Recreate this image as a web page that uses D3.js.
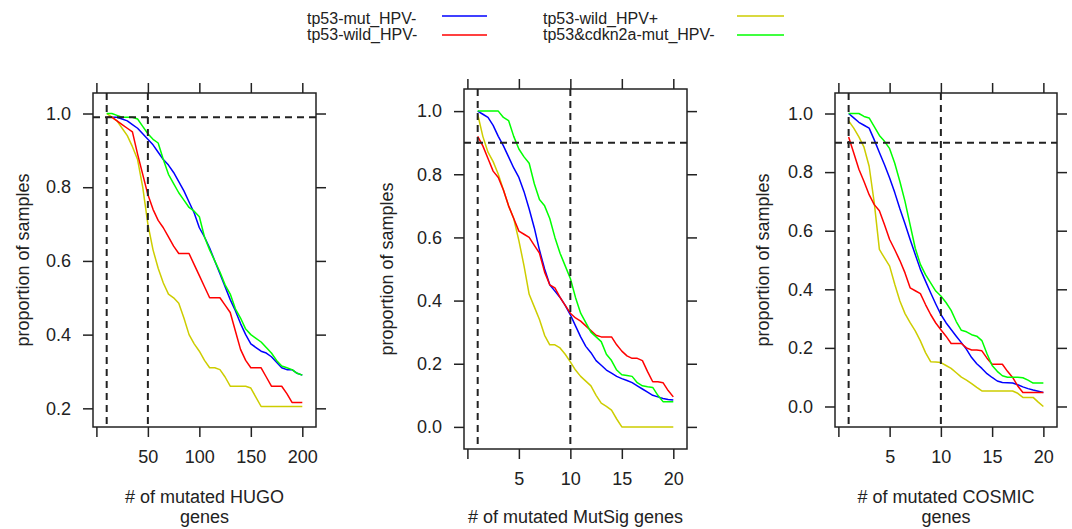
<!DOCTYPE html>
<html lang="en">
<head>
<meta charset="UTF-8">
<title>Proportion of samples by number of mutated genes</title>
<script src="https://d3js.org/d3.v7.min.js"></script>
<style>
  body { margin: 0; background: #fff; }
  svg text { font-family: "Liberation Sans", Arial, sans-serif; fill: #222; }
</style>
</head>
<body>
<div id="chart"></div>
<script>

// groups, in the order lattice draws them
const groups = ["tp53-mut_HPV-", "tp53-wild_HPV+", "tp53-wild_HPV-", "tp53&cdkn2a-mut_HPV-"];
const groupColors = ["#0000ff", "#cdcd00", "#ff0000", "#00ff00"];

// panel 1: HUGO genes
const hugoX = [10, 15, 20, 25, 30, 35, 40, 45, 50, 55, 60, 65, 70, 75, 80, 85, 90, 95, 100,
  105, 110, 115, 120, 125, 130, 135, 140, 145, 150, 155, 160, 165, 170, 175, 180, 185, 190, 195, 200];
const hugoMut = [0.99, 0.99, 0.99, 0.985, 0.98, 0.97, 0.96, 0.945, 0.93, 0.915, 0.895, 0.875, 0.86, 0.84, 0.815, 0.79, 0.76, 0.73, 0.69,
  0.665, 0.635, 0.60, 0.565, 0.53, 0.495, 0.465, 0.43, 0.40, 0.375, 0.365, 0.355, 0.35, 0.34, 0.325, 0.31, 0.305, 0.305, 0.295, 0.29];
const hugoWildPos = [1.0, 0.99, 0.98, 0.96, 0.94, 0.91, 0.875, 0.80, 0.70, 0.63, 0.58, 0.54, 0.51, 0.50, 0.485, 0.445, 0.40, 0.375, 0.355,
  0.33, 0.31, 0.31, 0.305, 0.285, 0.26, 0.26, 0.26, 0.26, 0.255, 0.23, 0.205, 0.205, 0.205, 0.205, 0.205, 0.205, 0.205, 0.205, 0.205];
const hugoWild = [0.99, 0.99, 0.98, 0.97, 0.96, 0.95, 0.89, 0.835, 0.78, 0.74, 0.71, 0.69, 0.665, 0.64, 0.62, 0.62, 0.62, 0.59, 0.56,
  0.53, 0.50, 0.50, 0.50, 0.48, 0.46, 0.41, 0.36, 0.33, 0.31, 0.31, 0.31, 0.285, 0.26, 0.26, 0.26, 0.24, 0.216, 0.216, 0.216];
const hugoCdkn = [1.0, 1.0, 0.995, 0.99, 0.99, 0.99, 0.985, 0.965, 0.945, 0.93, 0.92, 0.875, 0.835, 0.81, 0.785, 0.765, 0.745, 0.735, 0.72,
  0.665, 0.63, 0.60, 0.57, 0.535, 0.51, 0.47, 0.445, 0.415, 0.40, 0.39, 0.38, 0.365, 0.35, 0.33, 0.315, 0.31, 0.305, 0.295, 0.29];

// panel 2: MutSig genes
const mutsigX = [1, 1.5, 2, 2.5, 3, 3.5, 4, 4.5, 5, 5.5, 6, 6.5, 7, 7.5, 8, 8.5, 9, 9.5, 10,
  10.5, 11, 11.5, 12, 12.5, 13, 13.5, 14, 14.5, 15, 15.5, 16, 16.5, 17, 17.5, 18, 18.5, 19, 19.5, 20];
const mutsigMut = [1.0, 0.99, 0.98, 0.955, 0.92, 0.89, 0.855, 0.82, 0.79, 0.745, 0.69, 0.63, 0.56, 0.50, 0.45, 0.43, 0.41, 0.385, 0.355,
  0.32, 0.285, 0.255, 0.235, 0.21, 0.195, 0.18, 0.17, 0.16, 0.153, 0.147, 0.14, 0.13, 0.12, 0.11, 0.10, 0.095, 0.09, 0.087, 0.085];
const mutsigWildPos = [0.99, 0.92, 0.87, 0.84, 0.80, 0.75, 0.70, 0.66, 0.59, 0.51, 0.42, 0.38, 0.34, 0.29, 0.26, 0.26, 0.25, 0.23, 0.206,
  0.18, 0.16, 0.145, 0.13, 0.10, 0.075, 0.065, 0.053, 0.025, 0.0, 0.0, 0.0, 0.0, 0.0, 0.0, 0.0, 0.0, 0.0, 0.0, 0.0];
const mutsigWild = [0.92, 0.89, 0.85, 0.81, 0.79, 0.75, 0.70, 0.66, 0.62, 0.61, 0.60, 0.575, 0.55, 0.49, 0.45, 0.44, 0.41, 0.385, 0.36,
  0.345, 0.335, 0.32, 0.305, 0.29, 0.285, 0.285, 0.285, 0.26, 0.24, 0.225, 0.217, 0.217, 0.21, 0.175, 0.143, 0.143, 0.14, 0.115, 0.095];
const mutsigCdkn = [1.0, 1.0, 1.0, 1.0, 1.0, 0.98, 0.97, 0.92, 0.88, 0.855, 0.835, 0.77, 0.72, 0.70, 0.66, 0.60, 0.55, 0.51, 0.47,
  0.41, 0.36, 0.33, 0.30, 0.285, 0.27, 0.23, 0.21, 0.18, 0.165, 0.163, 0.16, 0.14, 0.13, 0.127, 0.125, 0.10, 0.08, 0.08, 0.08];

// panel 3: COSMIC genes
const cosmicX = [1, 1.5, 2, 2.5, 3, 3.5, 4, 4.5, 5, 5.5, 6, 6.5, 7, 7.5, 8, 8.5, 9, 9.5, 10,
  10.5, 11, 11.5, 12, 12.5, 13, 13.5, 14, 14.5, 15, 15.5, 16, 16.5, 17, 17.5, 18, 18.5, 19, 19.5, 20];
const cosmicMut = [1.0, 0.985, 0.97, 0.96, 0.95, 0.91, 0.867, 0.825, 0.78, 0.73, 0.675, 0.624, 0.57, 0.519, 0.468, 0.428, 0.388, 0.35, 0.314,
  0.286, 0.263, 0.24, 0.218, 0.195, 0.167, 0.146, 0.13, 0.112, 0.099, 0.087, 0.082, 0.081, 0.08, 0.074, 0.067, 0.061, 0.056, 0.052, 0.048];
const cosmicWildPos = [0.975, 0.95, 0.92, 0.885, 0.82, 0.695, 0.536, 0.507, 0.479, 0.417, 0.36, 0.317, 0.286, 0.258, 0.224, 0.184, 0.153, 0.152, 0.15,
  0.14, 0.13, 0.115, 0.10, 0.09, 0.078, 0.065, 0.053, 0.053, 0.053, 0.053, 0.053, 0.053, 0.053, 0.045, 0.031, 0.031, 0.031, 0.015, 0.0];
const cosmicWild = [0.92, 0.865, 0.81, 0.768, 0.723, 0.689, 0.668, 0.62, 0.57, 0.535, 0.498, 0.456, 0.405, 0.395, 0.385, 0.348, 0.314, 0.285, 0.262,
  0.24, 0.215, 0.215, 0.215, 0.20, 0.193, 0.193, 0.19, 0.165, 0.144, 0.144, 0.144, 0.12, 0.099, 0.07, 0.048, 0.048, 0.048, 0.048, 0.048];
const cosmicCdkn = [1.0, 1.0, 1.0, 0.99, 0.985, 0.955, 0.925, 0.905, 0.88, 0.83, 0.768, 0.70, 0.62, 0.54, 0.485, 0.45, 0.422, 0.394, 0.377,
  0.355, 0.328, 0.29, 0.26, 0.255, 0.245, 0.24, 0.225, 0.18, 0.14, 0.12, 0.105, 0.10, 0.10, 0.10, 0.098, 0.09, 0.08, 0.08, 0.08];

// ticks and reference lines
const hugoXTicks = [0, 50, 100, 150, 200];
const hugoXTickLabels = ["", "50", "100", "150", "200"];
const hugoYTicks = [0.2, 0.4, 0.6, 0.8, 1.0];
const countXTicks = [0, 5, 10, 15, 20];
const countXTickLabels = ["", "5", "10", "15", "20"];
const countYTicks = [0.0, 0.2, 0.4, 0.6, 0.8, 1.0];
const hugoRefX = [10, 50], hugoRefY = [0.99];
const countRefX = [1, 10], countRefY = [0.9];

const W = 1072, H = 529;
const svg = d3.select("#chart").append("svg")
  .attr("width", W).attr("height", H);

const panels = [
  { x: hugoX, series: [hugoMut, hugoWildPos, hugoWild, hugoCdkn],
    xTicks: hugoXTicks, xTickLabels: hugoXTickLabels, yTicks: hugoYTicks,
    refX: hugoRefX, refY: hugoRefY,
    box: {left: 93, right: 316, top: 93, bottom: 427},
    xTitle: ["# of mutated HUGO", "genes"], yTitleX: 29 },
  { x: mutsigX, series: [mutsigMut, mutsigWildPos, mutsigWild, mutsigCdkn],
    xTicks: countXTicks, xTickLabels: countXTickLabels, yTicks: countYTicks,
    refX: countRefX, refY: countRefY,
    box: {left: 464, right: 687, top: 89, bottom: 449},
    xTitle: ["# of mutated MutSig genes"], yTitleX: 393 },
  { x: cosmicX, series: [cosmicMut, cosmicWildPos, cosmicWild, cosmicCdkn],
    xTicks: countXTicks, xTickLabels: countXTickLabels, yTicks: countYTicks,
    refX: countRefX, refY: countRefY,
    box: {left: 835, right: 1057, top: 93, bottom: 427},
    xTitle: ["# of mutated COSMIC", "genes"], yTitleX: 769 }
];

// lattice pads each axis by 7% of the data range
function padded(ext) {
  const d = (ext[1] - ext[0]) * 0.07;
  return [ext[0] - d, ext[1] + d];
}

const ink = "#222";
const tickLen = 10;

panels.forEach(function(p) {
  const b = p.box;
  const x = d3.scaleLinear().domain(padded(d3.extent(p.x))).range([b.left, b.right]);
  const y = d3.scaleLinear().domain(padded(d3.extent(p.series.flat()))).range([b.bottom, b.top]);
  const g = svg.append("g");

  // curves
  const line = d3.line()
    .x(function(d, i) { return x(p.x[i]); })
    .y(function(d) { return y(d); });
  p.series.forEach(function(s, k) {
    g.append("path")
      .datum(s)
      .attr("fill", "none")
      .attr("stroke", groupColors[k])
      .attr("stroke-width", 1.5)
      .attr("stroke-linejoin", "round")
      .attr("d", line);
  });

  // dashed reference lines
  p.refX.forEach(function(v) {
    g.append("line")
      .attr("x1", x(v)).attr("x2", x(v))
      .attr("y1", b.top).attr("y2", b.bottom)
      .attr("stroke", ink).attr("stroke-width", 2)
      .attr("stroke-dasharray", "7,5");
  });
  p.refY.forEach(function(v) {
    g.append("line")
      .attr("x1", b.left).attr("x2", b.right)
      .attr("y1", y(v)).attr("y2", y(v))
      .attr("stroke", ink).attr("stroke-width", 2)
      .attr("stroke-dasharray", "7,5");
  });

  // axes on all four sides, labels only bottom and left
  const axStyle = function(sel) {
    sel.select(".domain").remove();
    sel.selectAll(".tick line").attr("stroke", ink).attr("stroke-width", 1.5);
    sel.selectAll(".tick text").attr("font-size", 18).style("fill", ink);
  };
  g.append("g")
    .attr("transform", `translate(0,${b.bottom})`)
    .call(d3.axisBottom(x).tickValues(p.xTicks).tickSize(tickLen).tickPadding(13)
      .tickFormat(function(d, i) { return p.xTickLabels[i]; }))
    .call(axStyle)
    .attr("font-family", null);
  g.append("g")
    .attr("transform", `translate(0,${b.top})`)
    .call(d3.axisTop(x).tickValues(p.xTicks).tickSize(tickLen).tickFormat(""))
    .call(axStyle);
  g.append("g")
    .attr("transform", `translate(${b.left},0)`)
    .call(d3.axisLeft(y).tickValues(p.yTicks).tickSize(tickLen).tickPadding(12)
      .tickFormat(d3.format(".1f")))
    .call(axStyle)
    .attr("font-family", null);
  g.append("g")
    .attr("transform", `translate(${b.right},0)`)
    .call(d3.axisRight(y).tickValues(p.yTicks).tickSize(tickLen).tickFormat(""))
    .call(axStyle);

  // frame
  g.append("rect")
    .attr("x", b.left).attr("y", b.top)
    .attr("width", b.right - b.left).attr("height", b.bottom - b.top)
    .attr("fill", "none").attr("stroke", ink).attr("stroke-width", 1.5);

  // axis titles
  const cx = (b.left + b.right) / 2;
  const titleBase = p.xTitle.length > 1 ? 503 : 523;
  p.xTitle.forEach(function(t, i) {
    g.append("text")
      .attr("x", cx).attr("y", titleBase + i * 20)
      .attr("text-anchor", "middle")
      .attr("font-size", 18)
      .text(t);
  });
  g.append("text")
    .attr("transform", `translate(${p.yTitleX},${(b.top + b.bottom) / 2}) rotate(-90)`)
    .attr("text-anchor", "middle")
    .attr("font-size", 18)
    .text("proportion of samples");
});

// legend: two columns, filled row by row
const legend = svg.append("g");
const legCols = [{text: 307, l1: 442, l2: 487}, {text: 543, l1: 737, l2: 784}];
const legRows = [{line: 16, base: 23.5}, {line: 35, base: 39.5}];
groups.forEach(function(name, k) {
  const c = legCols[k % 2], r = legRows[Math.floor(k / 2)];
  legend.append("text")
    .attr("x", c.text).attr("y", r.base)
    .attr("font-size", 16)
    .text(name);
  legend.append("line")
    .attr("x1", c.l1).attr("x2", c.l2)
    .attr("y1", r.line).attr("y2", r.line)
    .attr("stroke", groupColors[k]).attr("stroke-width", 1.5);
});
</script>
</body>
</html>
